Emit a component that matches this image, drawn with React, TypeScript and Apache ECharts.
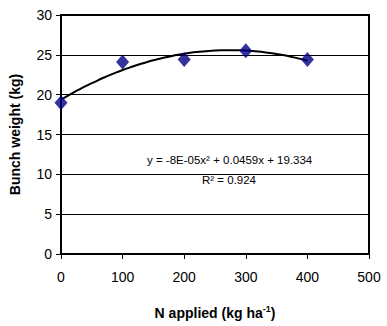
import React, { useEffect, useRef } from "react";
import * as echarts from "echarts";

const nApplied = [0, 100, 200, 300, 400];
const bunchWeight = [19.0, 24.1, 24.4, 25.5, 24.4];
const xTicks = [0, 100, 200, 300, 400, 500];
const yTicks = [0, 5, 10, 15, 20, 25, 30];
const equationText = "y = -8E-05x² + 0.0459x + 19.334";
const r2Text = "R² = 0.924";

// least-squares quadratic fit of the observed points (Excel-style trendline)
function quadFit(xs: number[], ys: number[]) {
  const n = xs.length;
  let s0 = n, s1 = 0, s2 = 0, s3 = 0, s4 = 0, t0 = 0, t1 = 0, t2 = 0;
  for (let i = 0; i < n; i++) {
    const x = xs[i], y = ys[i];
    s1 += x; s2 += x * x; s3 += x * x * x; s4 += x * x * x * x;
    t0 += y; t1 += x * y; t2 += x * x * y;
  }
  const M = [
    [s4, s3, s2, t2],
    [s3, s2, s1, t1],
    [s2, s1, s0, t0],
  ];
  for (let i = 0; i < 3; i++) {
    for (let k = i + 1; k < 3; k++) {
      const f = M[k][i] / M[i][i];
      for (let j = i; j < 4; j++) M[k][j] -= f * M[i][j];
    }
  }
  const r = [0, 0, 0];
  for (let i = 2; i >= 0; i--) {
    let s = M[i][3];
    for (let j = i + 1; j < 3; j++) s -= M[i][j] * r[j];
    r[i] = s / M[i][i];
  }
  return r; // a, b, c
}

export default function App() {
  const ref = useRef<HTMLDivElement>(null);
  useEffect(() => {
    document.body.style.margin = "0";
    if (!ref.current) return;
    const chart = echarts.init(ref.current, null, { renderer: "svg" });
    const [a, b, c] = quadFit(nApplied, bunchWeight);
    const xMin = nApplied[0];
    const xMax = nApplied[nApplied.length - 1];
    const trend: number[][] = [];
    for (let i = 0; i <= 40; i++) {
      const x = xMin + ((xMax - xMin) * i) / 40;
      trend.push([x, a * x * x + b * x + c]);
    }
    const font = "Liberation Sans, Arial, sans-serif";
    chart.setOption({
      animation: false,
      grid: {
        left: 58,
        right: 18,
        top: 15,
        bottom: 72,
        show: true,
        borderColor: "#000",
        borderWidth: 2,
        backgroundColor: "transparent",
      },
      xAxis: {
        type: "value",
        min: xTicks[0],
        max: xTicks[xTicks.length - 1],
        interval: 100,
        name: "{b|N applied (kg ha}{s|-1}{b|)}",
        nameLocation: "middle",
        nameGap: 50,
        nameTextStyle: {
          rich: {
            b: { fontFamily: font, fontWeight: "bold", fontSize: 14, color: "#000" },
            s: { fontFamily: font, fontWeight: "bold", fontSize: 9, color: "#000", verticalAlign: "top", padding: [0, 0, 8, 0] },
          },
        },
        axisLine: { lineStyle: { color: "#000", width: 2 } },
        axisTick: { show: true, length: 5, inside: false, lineStyle: { color: "#000", width: 1 } },
        axisLabel: { color: "#000", fontFamily: font, fontSize: 14, margin: 16 },
        splitLine: { show: false },
      },
      yAxis: {
        type: "value",
        min: yTicks[0],
        max: yTicks[yTicks.length - 1],
        interval: 5,
        name: "Bunch weight (kg)",
        nameLocation: "middle",
        nameGap: 39,
        nameTextStyle: { fontFamily: font, fontWeight: "bold", fontSize: 14, color: "#000" },
        axisLine: { lineStyle: { color: "#000", width: 2 } },
        axisTick: { show: true, length: 5, inside: false, lineStyle: { color: "#000", width: 1 } },
        axisLabel: { color: "#000", fontFamily: font, fontSize: 14, margin: 9 },
        splitLine: { show: true, lineStyle: { color: "#000", width: 1 } },
      },
      series: [
        {
          type: "line",
          data: trend,
          showSymbol: false,
          smooth: true,
          lineStyle: { color: "#000", width: 2 },
          z: 2,
        },
        {
          type: "scatter",
          data: nApplied.map((x, i) => [x, bunchWeight[i]]),
          symbol: "diamond",
          symbolSize: [13, 15],
          itemStyle: { color: "#000080" },
          z: 3,
        },
      ],
      graphic: [
        {
          type: "text",
          left: 147,
          top: 154,
          style: { text: equationText, fontFamily: font, fontSize: 11.5, fill: "#000" },
        },
        {
          type: "text",
          left: 202,
          top: 174,
          style: { text: r2Text, fontFamily: font, fontSize: 11.5, fill: "#000" },
        },
      ],
    });
    return () => chart.dispose();
  }, []);
  return <div ref={ref} style={{ width: 387, height: 326 }} />;
}
